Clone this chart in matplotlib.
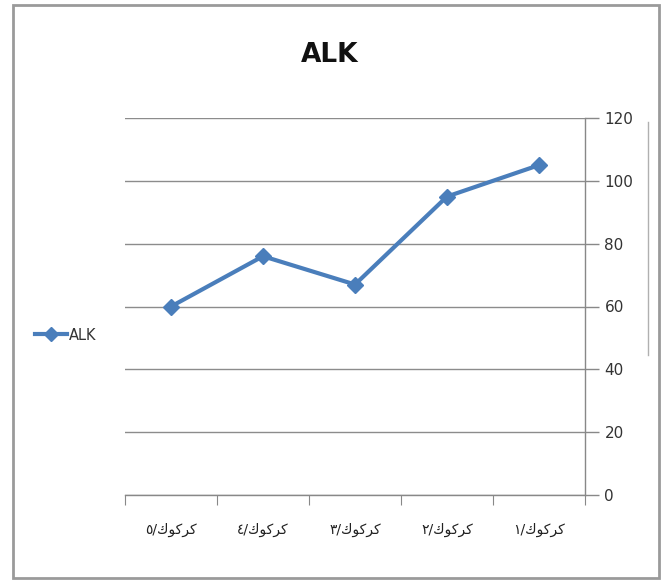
import matplotlib
matplotlib.use("Agg")
import matplotlib.pyplot as plt
from matplotlib.lines import Line2D

# Sampling sites (Kirkuk 1..5) and measured alkalinity
sites = ["كركوك/١", "كركوك/٢", "كركوك/٣", "كركوك/٤", "كركوك/٥"]
alk = [105, 95, 67, 76, 60]
yticks = [0, 20, 40, 60, 80, 100, 120]
series_name = "ALK"
title = "ALK"

# Arabic presentation forms (matplotlib does no shaping / bidi)
_forms = {
    "ك": {"isol": "\uFED9", "init": "\uFEDB", "medi": "\uFEDC", "fina": "\uFEDA"},
    "ر": {"isol": "\uFEAD", "fina": "\uFEAE"},
    "و": {"isol": "\uFEED", "fina": "\uFEEE"},
}
_non_joining_after = {"ر", "و"}


def shape_rtl(text):
    chars = list(text)
    out = []
    for i, ch in enumerate(chars):
        if ch not in _forms:
            out.append(ch)
            continue
        prev = chars[i - 1] if i > 0 else None
        nxt = chars[i + 1] if i + 1 < len(chars) else None
        joins_prev = prev in _forms and prev not in _non_joining_after
        joins_next = nxt in _forms and ch not in _non_joining_after
        f = _forms[ch]
        if joins_prev and joins_next:
            form = f.get("medi", f.get("fina"))
        elif joins_prev:
            form = f["fina"]
        elif joins_next:
            form = f.get("init", f["isol"])
        else:
            form = f["isol"]
        out.append(form)
    return "".join(reversed(out))


W, H = 661, 581
fig = plt.figure(figsize=(W / 100, H / 100), dpi=100)
fig.patch.set_facecolor("white")

ax = fig.add_axes([125 / W, 1 - 495 / H, 460 / W, 377 / H])
x = list(range(len(sites)))
line_color = "#4A7EBB"
ax.plot(x, alk, color=line_color, linewidth=3, marker="D", markersize=8,
        markerfacecolor=line_color, markeredgecolor=line_color, zorder=3)

ax.set_xlim(len(sites) - 0.5, -0.5)
ax.set_ylim(0, 120)
ax.set_yticks(yticks)
ax.yaxis.tick_right()
ax.yaxis.set_label_position("right")
ax.tick_params(axis="y", direction="out", length=10, width=1, color="#888888",
               labelsize=11, labelcolor="#333333", pad=4)
ax.grid(axis="y", color="#8c8c8c", linewidth=1)
ax.set_axisbelow(True)

# category ticks at boundaries, labels at centres
ax.set_xticks([i - 0.5 for i in range(len(sites) + 1)], minor=False)
ax.set_xticklabels([])
ax.tick_params(axis="x", which="major", direction="out", length=7, color="#888888")
ax.set_xticks(x, minor=True)
ax.set_xticklabels([shape_rtl(s) for s in sites], minor=True,
                   fontfamily="DejaVu Sans", fontsize=10, color="#222222")
ax.tick_params(axis="x", which="minor", length=0, pad=20)

for side in ["top", "left"]:
    ax.spines[side].set_visible(False)
ax.spines["right"].set_color("#888888")
ax.spines["bottom"].set_color("#888888")
for s in ax.spines.values():
    s.set_linewidth(1)

fig.text(330 / W, 1 - 55 / H, title, ha="center", va="center",
         fontsize=19, fontweight="bold", color="#111111")

# legend on the left
handle = Line2D([], [], color=line_color, linewidth=3, marker="D",
                markersize=7, markerfacecolor=line_color)
fig.legend([handle], [series_name], loc="center left",
           bbox_to_anchor=(22 / W, 1 - 335 / H), frameon=False,
           fontsize=10.5, handlelength=2.2, handletextpad=0.1,
           labelcolor="#333333")

# outer chart frame
frame = plt.Rectangle((13 / W, 3 / H), (W - 15) / W, (H - 8) / H,
                      transform=fig.transFigure, fill=False,
                      edgecolor="#9a9a9a", linewidth=2)
fig.add_artist(frame)
fig.add_artist(Line2D([648 / W, 648 / W], [1 - 122 / H, 1 - 355 / H],
                      transform=fig.transFigure, color="#b0b0b0", linewidth=1))

fig.savefig("out.png", dpi=100, facecolor="white")
